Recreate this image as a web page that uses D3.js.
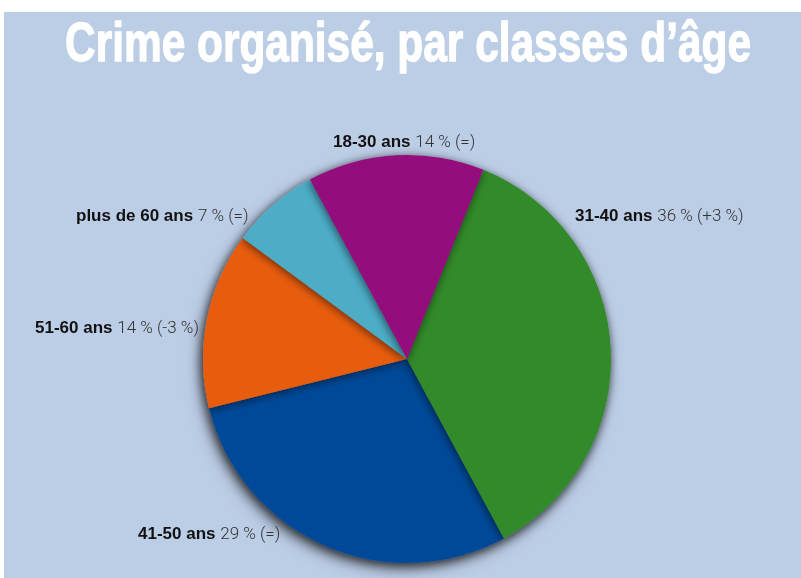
<!DOCTYPE html>
<html>
<head>
<meta charset="utf-8">
<script src="https://cdn.jsdelivr.net/npm/d3@7"></script>
<style>
  body { margin: 0; background: #fff; }
  svg { display: block; }
</style>
</head>
<body>
<svg id="viz"></svg>
<script>
(function () {
    // data
    let categories = ['31-40 ans', '41-50 ans', '51-60 ans', 'plus de 60 ans', '18-30 ans']
    let shares = [36, 29, 14, 7, 14]
    let changes = ['+3 %', '=', '-3 %', '=', '=']
    let colors = ['#318a29', '#004a98', '#e85d0f', '#4eadc7', '#93117c']
    // which slice lies over which (so shadows fall the right way)
    let drawOrder = [1, 0, 2, 3, 4]

    let config = {
        w: 801,
        h: 578,
        center: [407, 359],
        radius: 204,
        startDeg: 22,
        // label anchors (start x, baseline y), same order as categories
        labelPos: [[575, 221], [138, 539], [35, 333], [76, 221], [333, 147]]
    }

    let svg = d3.select('#viz')
        .attr('width', config.w)
        .attr('height', config.h)

    svg.append('rect')
        .attr('x', 4)
        .attr('y', 12)
        .attr('width', config.w - 4)
        .attr('height', config.h - 12)
        .attr('fill', '#bccde6')

    let defs = svg.append('defs')
    defs.append('filter')
        .attr('id', 'pieShadow')
        .attr('x', '-20%').attr('y', '-20%')
        .attr('width', '140%').attr('height', '140%')
        .append('feDropShadow')
        .attr('dx', -3).attr('dy', 5)
        .attr('stdDeviation', 6)
        .attr('flood-color', '#000')
        .attr('flood-opacity', 0.5)
    defs.append('filter')
        .attr('id', 'sliceShadow')
        .attr('x', '-30%').attr('y', '-30%')
        .attr('width', '160%').attr('height', '160%')
        .append('feDropShadow')
        .attr('dx', -1).attr('dy', 2)
        .attr('stdDeviation', 4)
        .attr('flood-color', '#000')
        .attr('flood-opacity', 0.55)

    svg.append('text')
        .attr('x', 408)
        .attr('y', 61)
        .attr('text-anchor', 'middle')
        .attr('textLength', 686)
        .attr('lengthAdjust', 'spacingAndGlyphs')
        .style('font-family', '"Liberation Sans Narrow", "Liberation Sans", sans-serif')
        .style('font-weight', 'bold')
        .style('font-size', '55px')
        .attr('fill', '#fff')
        .attr('stroke', '#fff')
        .attr('stroke-width', 1.3)
        .text('Crime organisé, par classes d’âge')

    let start = config.startDeg * Math.PI / 180
    let pie = d3.pie()
        .sort(null)
        .value(d => d)
        .startAngle(start)
        .endAngle(start + 2 * Math.PI)
    let arcs = pie(shares)
    let arc = d3.arc().innerRadius(0).outerRadius(config.radius)

    let gPie = svg.append('g')
        .attr('transform', 'translate(' + config.center + ')')
        .attr('filter', 'url(#pieShadow)')

    drawOrder.forEach(i => {
        gPie.append('path')
            .attr('d', arc(arcs[i]))
            .attr('fill', colors[i])
            .attr('filter', 'url(#sliceShadow)')
    })

    categories.forEach((cat, i) => {
        let p = config.labelPos[i]
        let t = svg.append('text')
            .attr('x', p[0])
            .attr('y', p[1])
            .style('font-size', '17px')
        t.append('tspan')
            .style('font-family', '"Liberation Sans", Arial, sans-serif')
            .style('font-weight', 'bold')
            .attr('fill', '#111')
            .text(cat + ' ')
        t.append('tspan')
            .style('font-family', 'Roboto, "Liberation Sans", sans-serif')
            .style('font-weight', 300)
            .attr('fill', '#333')
            .text(shares[i] + ' % (' + changes[i] + ')')
    })
})()
</script>
</body>
</html>
